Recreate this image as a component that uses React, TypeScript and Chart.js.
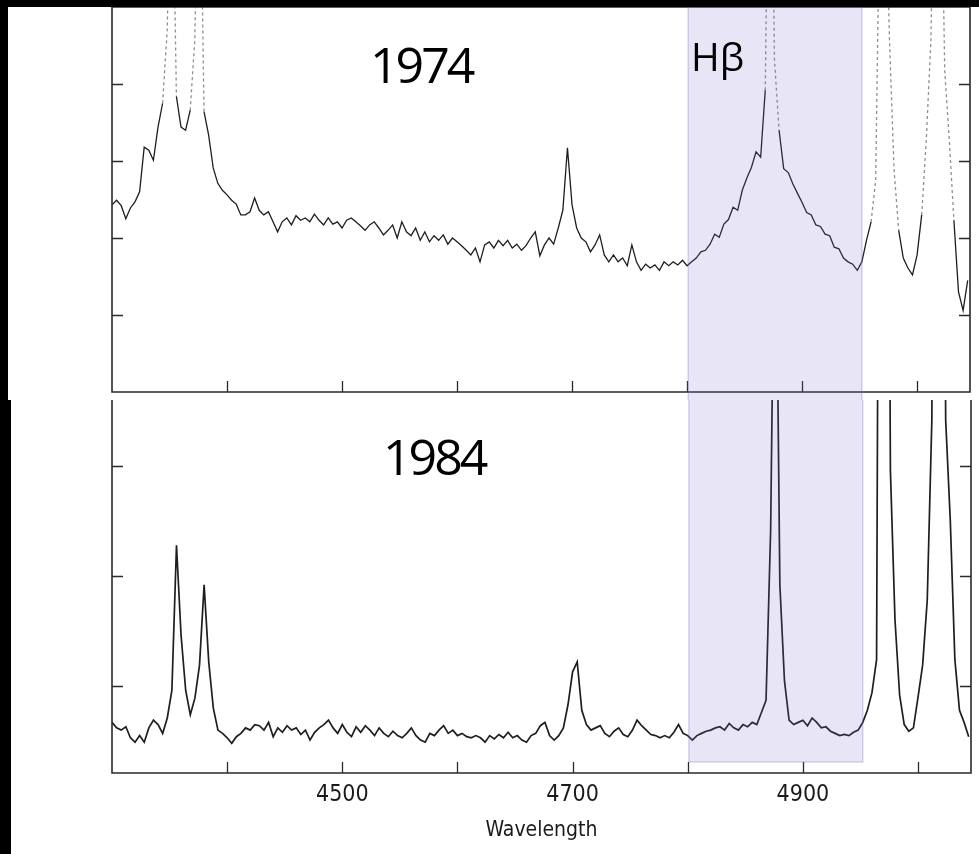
import React, { useEffect, useRef } from 'react';
import { Chart, registerables } from 'chart.js';

Chart.register(...registerables);

// ---- data -------------------------------------------------------------
const WL_START = 4300; // Å, first sample
const WL_STEP = 4; // Å between samples
const X_MIN = 4300;
const X_MAX = 5046;
const X_TICKS = [4400, 4500, 4600, 4700, 4800, 4900, 5000];
const X_LABELED = [4500, 4700, 4900];
const TOP_Y_TICKS = [1, 2, 3, 4];
const BOTTOM_Y_TICKS = [1, 2, 3];
const HB_BAND = [4801, 4952];
const HB_BAND_FLOOR = 0.31;
const YEAR_TOP = '1974';
const YEAR_BOTTOM = '1984';
const BAND_LABEL = 'Hβ';
const X_TITLE = 'Wavelength';

// 1974 spectrum (relative flux)
const flux1974 = [
  2.43, 2.49, 2.42, 2.25, 2.39, 2.47, 2.60, 3.18, 3.14, 3.01,
  3.44, 3.75, 4.70, 7.5, 3.84, 3.44, 3.40, 3.66, 4.57, 7.8,
  3.64, 3.34, 2.91, 2.71, 2.62, 2.56, 2.49, 2.44, 2.30, 2.30,
  2.34, 2.52, 2.36, 2.30, 2.34, 2.21, 2.08, 2.21, 2.26, 2.17,
  2.29, 2.23, 2.26, 2.21, 2.31, 2.23, 2.17, 2.26, 2.18, 2.21,
  2.13, 2.23, 2.26, 2.21, 2.16, 2.10, 2.17, 2.21, 2.13, 2.04,
  2.10, 2.17, 2.00, 2.21, 2.08, 2.03, 2.13, 1.97, 2.08, 1.95,
  2.03, 1.97, 2.04, 1.92, 2.00, 1.95, 1.90, 1.84, 1.78, 1.87,
  1.69, 1.91, 1.95, 1.87, 1.97, 1.90, 1.97, 1.87, 1.92, 1.84,
  1.90, 2.00, 2.08, 1.77, 1.91, 2.00, 1.92, 2.13, 2.36, 3.17,
  2.43, 2.13, 2.00, 1.95, 1.82, 1.91, 2.04, 1.78, 1.69, 1.78,
  1.69, 1.74, 1.64, 1.91, 1.69, 1.58, 1.66, 1.61, 1.65, 1.58,
  1.69, 1.64, 1.69, 1.65, 1.71, 1.64, 1.69, 1.74, 1.82, 1.84,
  1.92, 2.05, 2.01, 2.18, 2.24, 2.40, 2.36, 2.62, 2.78, 2.92,
  3.12, 3.05, 3.92, 9.0, 4.31, 3.40, 2.90, 2.85, 2.70, 2.58,
  2.46, 2.33, 2.30, 2.17, 2.15, 2.05, 2.03, 1.88, 1.86, 1.74,
  1.69, 1.66, 1.58, 1.69, 1.97, 2.21, 2.75, 7.0, 7.0, 4.57,
  2.88, 2.10, 1.74, 1.61, 1.52, 1.78, 2.30, 3.27, 4.57, 8.0,
  8.0, 4.18, 3.27, 2.23, 1.30, 1.06, 1.45,
];

// 1984 spectrum (relative flux)
const flux1984 = [
  0.67, 0.62, 0.60, 0.63, 0.53, 0.49, 0.55, 0.49, 0.62, 0.69,
  0.65, 0.57, 0.71, 0.96, 2.28, 1.46, 0.96, 0.74, 0.89, 1.19,
  1.92, 1.22, 0.80, 0.60, 0.57, 0.53, 0.48, 0.54, 0.57, 0.62,
  0.60, 0.65, 0.64, 0.60, 0.67, 0.54, 0.62, 0.58, 0.64, 0.60,
  0.62, 0.56, 0.60, 0.51, 0.58, 0.62, 0.65, 0.69, 0.62, 0.57,
  0.65, 0.58, 0.54, 0.63, 0.58, 0.64, 0.60, 0.55, 0.62, 0.57,
  0.54, 0.59, 0.55, 0.53, 0.57, 0.62, 0.55, 0.51, 0.49, 0.57,
  0.55, 0.60, 0.64, 0.57, 0.60, 0.55, 0.57, 0.54, 0.53, 0.55,
  0.53, 0.49, 0.55, 0.52, 0.56, 0.53, 0.58, 0.53, 0.55, 0.51,
  0.49, 0.55, 0.57, 0.64, 0.67, 0.55, 0.51, 0.55, 0.62, 0.83,
  1.13, 1.22, 0.78, 0.65, 0.60, 0.62, 0.64, 0.57, 0.54, 0.59,
  0.62, 0.56, 0.54, 0.60, 0.69, 0.64, 0.60, 0.56, 0.55, 0.53,
  0.55, 0.53, 0.58, 0.65, 0.57, 0.55, 0.51, 0.55, 0.57, 0.59,
  0.60, 0.62, 0.63, 0.60, 0.66, 0.62, 0.60, 0.65, 0.63, 0.67,
  0.65, 0.76, 0.87, 2.42, 6.0, 1.92, 1.05, 0.69, 0.65, 0.67,
  0.69, 0.64, 0.71, 0.67, 0.62, 0.63, 0.59, 0.57, 0.55, 0.56,
  0.55, 0.58, 0.60, 0.67, 0.78, 0.94, 1.24, 12.0, 12.0, 2.96,
  1.60, 0.92, 0.65, 0.59, 0.62, 0.90, 1.19, 1.78, 3.42, 12.0,
  12.0, 3.42, 2.51, 1.24, 0.78, 0.67, 0.54,
];

// ---- styling ------------------------------------------------------------
const TICK_FONT = "'Liberation Sans Narrow', 'DejaVu Sans Condensed', 'DejaVu Sans', sans-serif";
const TITLE_FONT = "'DejaVu Sans Condensed', 'Liberation Sans Narrow', 'DejaVu Sans', sans-serif";
const ANNOT_FONT = "'Open Sans', 'Noto Sans', sans-serif";
const INK = '#1e1e1e';

const toPoints = (arr: number[]) => arr.map((v, i) => ({ x: WL_START + i * WL_STEP, y: v }));

type Note = { text: string; x: number; y: number; size: number; spacing: number };

function panelPlugin(opts: { yTicks: number[]; topLine: boolean; bandFromTop: boolean; bandFloor: number | null; notes: Note[] }) {
  return {
    id: 'panelDecor',
    afterDatasetsDraw(chart: any) {
      const { ctx, chartArea: a, scales } = chart;
      const x = scales.x;
      const y = scales.y;
      ctx.save();
      // frame
      ctx.strokeStyle = '#2a2a2a';
      ctx.lineWidth = 1.6;
      ctx.beginPath();
      ctx.moveTo(a.left, a.top);
      ctx.lineTo(a.left, a.bottom);
      ctx.lineTo(a.right, a.bottom);
      ctx.lineTo(a.right, a.top);
      if (opts.topLine) {
        ctx.moveTo(a.left, a.top);
        ctx.lineTo(a.right, a.top);
      }
      ctx.stroke();
      // inward ticks
      ctx.lineWidth = 1.3;
      ctx.beginPath();
      for (const v of opts.yTicks) {
        const py = Math.round(y.getPixelForValue(v)) + 0.5;
        ctx.moveTo(a.left, py);
        ctx.lineTo(a.left + 11, py);
        ctx.moveTo(a.right, py);
        ctx.lineTo(a.right - 11, py);
      }
      for (const v of X_TICKS) {
        const px = Math.round(x.getPixelForValue(v)) + 0.5;
        ctx.moveTo(px, a.bottom);
        ctx.lineTo(px, a.bottom - 11);
      }
      ctx.stroke();
      // Hβ band overlay
      const x0 = x.getPixelForValue(HB_BAND[0]);
      const x1 = x.getPixelForValue(HB_BAND[1]);
      const y0 = opts.bandFromTop ? a.top : 0;
      const y1 = opts.bandFloor == null ? chart.height : y.getPixelForValue(opts.bandFloor);
      ctx.fillStyle = 'rgba(120, 100, 200, 0.17)';
      ctx.fillRect(x0, y0, x1 - x0, y1 - y0);
      ctx.strokeStyle = 'rgba(120, 100, 200, 0.28)';
      ctx.lineWidth = 1.5;
      ctx.beginPath();
      ctx.moveTo(x0, y0);
      ctx.lineTo(x0, y1);
      if (opts.bandFloor != null) ctx.lineTo(x1, y1);
      else ctx.moveTo(x1, y1);
      ctx.lineTo(x1, y0);
      ctx.stroke();
      // annotations
      ctx.fillStyle = '#000';
      ctx.textAlign = 'left';
      ctx.textBaseline = 'alphabetic';
      for (const n of opts.notes) {
        ctx.font = `${n.size}px ${ANNOT_FONT}`;
        try { (ctx as any).letterSpacing = `${n.spacing}px`; } catch (e) {}
        ctx.fillText(n.text, n.x, n.y);
      }
      try { (ctx as any).letterSpacing = '0px'; } catch (e) {}
      ctx.restore();
    },
  };
}

const faint = (c: any) => {
  const a = c.p0.parsed;
  const b = c.p1.parsed;
  const m = Math.max(a.y, b.y);
  return m > 4.2 || (a.x >= 4956 && m > 2.3);
};

export default function App() {
  const topRef = useRef<HTMLCanvasElement>(null);
  const botRef = useRef<HTMLCanvasElement>(null);

  useEffect(() => {
    document.body.style.margin = '0';
    document.body.style.background = '#fff';

    const top = new Chart(topRef.current as HTMLCanvasElement, {
      type: 'line',
      data: {
        datasets: [
          {
            label: YEAR_TOP,
            data: toPoints(flux1974),
            borderColor: INK,
            borderWidth: 1.3,
            pointRadius: 0,
            tension: 0,
            segment: {
              borderColor: (c: any) => (faint(c) ? '#8e8e8e' : undefined),
              borderDash: (c: any) => (faint(c) ? [3, 3] : undefined),
            },
          } as any,
        ],
      },
      options: {
        animation: false,
        responsive: false,
        devicePixelRatio: 1,
        layout: { padding: { left: 112, top: 7, right: 9, bottom: 8 } },
        plugins: { legend: { display: false }, tooltip: { enabled: false }, title: { display: false } },
        scales: {
          x: { type: 'linear', min: X_MIN, max: X_MAX, display: false },
          y: { type: 'linear', min: 0, max: 5, display: false },
        },
      },
      plugins: [
        panelPlugin({
          yTicks: TOP_Y_TICKS,
          topLine: true,
          bandFromTop: true,
          bandFloor: null,
          notes: [
            { text: YEAR_TOP, x: 370, y: 83, size: 50, spacing: -3 },
            { text: BAND_LABEL, x: 691, y: 71, size: 39, spacing: 0 },
          ],
        }),
      ],
    } as any);

    const bottom = new Chart(botRef.current as HTMLCanvasElement, {
      type: 'line',
      data: {
        datasets: [
          {
            label: YEAR_BOTTOM,
            data: toPoints(flux1984),
            borderColor: INK,
            borderWidth: 1.7,
            pointRadius: 0,
            tension: 0,
          },
        ],
      },
      options: {
        animation: false,
        responsive: false,
        devicePixelRatio: 1,
        layout: { padding: { left: 112, top: 0, right: 8, bottom: 0 } },
        plugins: { legend: { display: false }, tooltip: { enabled: false }, title: { display: false } },
        scales: {
          x: {
            type: 'linear',
            min: X_MIN,
            max: X_MAX,
            position: 'bottom',
            grid: { display: false },
            border: { display: false },
            afterBuildTicks: (s: any) => {
              s.ticks = X_LABELED.map((v) => ({ value: v }));
            },
            afterFit: (s: any) => {
              s.height = 81;
            },
            ticks: {
              color: '#1a1a1a',
              font: { family: TICK_FONT, size: 23 },
              padding: 0,
              maxRotation: 0,
              autoSkip: false,
              callback: (v: any) => String(v),
            },
            title: {
              display: true,
              text: X_TITLE,
              color: '#1a1a1a',
              font: { family: TITLE_FONT, size: 21 },
              padding: { top: 0, bottom: 11 },
            },
          },
          y: { type: 'linear', min: 0.21, max: 3.6, display: false },
        },
      },
      plugins: [
        panelPlugin({
          yTicks: BOTTOM_Y_TICKS,
          topLine: false,
          bandFromTop: false,
          bandFloor: HB_BAND_FLOOR,
          notes: [{ text: YEAR_BOTTOM, x: 383, y: 75, size: 50, spacing: -3 }],
        }),
      ],
    } as any);

    return () => {
      top.destroy();
      bottom.destroy();
    };
  }, []);

  return (
    <div style={{ position: 'relative', width: 979, height: 854, background: '#fff', overflow: 'hidden' }}>
      <canvas ref={topRef} width={979} height={400} style={{ position: 'absolute', left: 0, top: 0, width: 979, height: 400 }} />
      <canvas ref={botRef} width={979} height={454} style={{ position: 'absolute', left: 0, top: 400, width: 979, height: 454 }} />
      <div style={{ position: 'absolute', left: 0, top: 0, width: 979, height: 7, background: '#000' }} />
      <div style={{ position: 'absolute', left: 0, top: 0, width: 8, height: 400, background: '#000' }} />
      <div style={{ position: 'absolute', left: 0, top: 400, width: 11, height: 454, background: '#000' }} />
    </div>
  );
}
